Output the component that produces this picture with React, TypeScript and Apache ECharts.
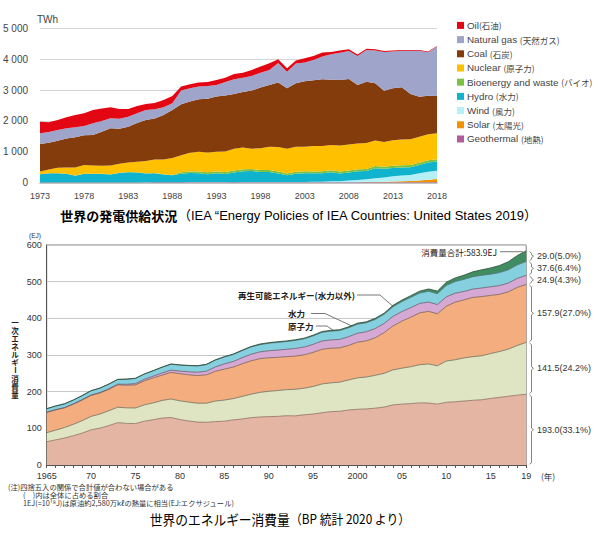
import React, { useEffect, useRef } from "react";
import * as echarts from "echarts";

// ---------- Top chart: electricity generation (TWh), 1973-2018 ----------
const genYears = ["1973","1974","1975","1976","1977","1978","1979","1980","1981","1982","1983","1984","1985","1986","1987","1988","1989","1990","1991","1992","1993","1994","1995","1996","1997","1998","1999","2000","2001","2002","2003","2004","2005","2006","2007","2008","2009","2010","2011","2012","2013","2014","2015","2016","2017","2018"];
const genGeothermal = [2,3,3,4,4,3,4,5,6,5,6,8,10,11,11,11,15,16,16,17,17,17,14,16,15,15,15,14,14,14,14,15,15,15,15,15,15,15,17,17,17,18,18,18,18,19];
const genSolar = [0,0,0,0,0,0,0,0,0,0,0,0,0,1,1,1,1,1,1,1,1,1,1,1,1,1,1,1,1,1,1,1,1,1,1,2,2,4,7,12,21,29,39,55,77,97];
const genWind = [0,0,0,0,0,0,0,0,0,0,0,0,1,1,2,2,2,3,3,3,3,3,3,3,3,3,5,6,7,10,11,14,18,27,34,55,74,95,120,141,169,183,193,229,257,275];
const genHydro = [272,304,303,286,223,283,282,279,263,312,335,325,284,294,253,226,272,293,289,255,283,262,314,351,360,328,322,279,221,267,280,272,274,293,250,258,277,262,326,280,272,262,253,272,306,296];
const genBio = [2,2,2,3,3,3,3,3,4,4,5,6,7,9,10,11,45,52,55,59,60,62,62,64,65,64,65,66,57,61,63,63,64,65,66,67,66,68,68,68,70,73,72,71,72,73];
const genNuclear = [88,120,180,200,262,288,266,262,285,295,307,342,400,432,475,550,552,602,640,646,636,668,703,705,656,703,760,787,803,815,798,824,816,822,842,842,834,842,825,803,822,831,830,840,839,841];
const genCoal = [890,861,874,937,978,960,991,1101,1204,1134,1162,1249,1329,1333,1442,1555,1653,1659,1697,1740,1788,1808,1777,1801,1882,1967,1999,2090,1956,2053,2119,2132,2163,2108,2120,2121,1898,1987,1857,1660,1686,1692,1467,1301,1249,1207];
const genGas = [346,350,346,330,324,303,378,350,324,320,324,320,324,300,249,216,442,433,412,410,379,440,477,460,477,480,486,636,533,640,605,650,739,825,881,907,939,1025,1062,1255,1193,1182,1398,1489,1407,1599];
const genOil = [376,320,323,360,399,410,431,400,357,320,249,230,195,200,237,238,131,129,128,130,162,140,172,160,194,200,216,120,115,95,140,130,125,75,70,55,45,40,40,32,30,30,30,25,21,22];
const genTicks = ["0","1 000","2 000","3 000","4 000","5 000"];
const genNames = ["Oil(石油)","Natural gas (天然ガス)","Coal (石炭)","Nuclear (原子力)","Bioenergy and waste (バイオ)","Hydro (水力)","Wind (風力)","Solar (太陽光)","Geothermal (地熱)"];

// ---------- Bottom chart: primary energy consumption (EJ), 1965-2019 ----------
const conYears = ["1965","1966","1967","1968","1969","1970","1971","1972","1973","1974","1975","1976","1977","1978","1979","1980","1981","1982","1983","1984","1985","1986","1987","1988","1989","1990","1991","1992","1993","1994","1995","1996","1997","1998","1999","2000","2001","2002","2003","2004","2005","2006","2007","2008","2009","2010","2011","2012","2013","2014","2015","2016","2017","2018","2019"];
const conOil = [63.6,68.5,73.5,80.0,87.0,96.0,100.5,107.5,115.5,113.5,113.0,119.5,123.5,128.0,129.5,124.0,120.0,117.0,116.5,118.5,119.5,123.0,125.5,129.0,131.0,132.0,132.5,134.5,134.0,137.0,139.0,142.5,145.5,146.5,150.0,152.0,153.0,155.0,158.0,164.0,166.0,167.5,169.5,169.0,166.0,171.0,172.5,174.5,176.5,178.0,181.5,184.5,187.5,190.5,193.0];
const conGas = [24.5,26.5,28.5,31.0,34.0,36.5,38.5,40.5,42.0,42.5,42.5,44.5,46.0,48.0,50.5,51.0,51.5,51.5,52.0,56.0,57.5,58.0,61.5,64.0,67.0,69.0,70.5,71.0,72.5,72.5,75.0,78.5,78.5,79.5,82.0,85.5,87.0,89.5,92.0,95.5,98.0,100.5,104.0,106.5,104.5,112.5,114.5,117.5,119.0,120.0,122.5,125.0,128.5,135.5,141.5];
const conCoal = [55.6,55.5,54.0,55.0,56.5,57.5,57.5,58.5,61.0,61.5,63.0,65.5,68.0,69.0,72.5,74.0,74.5,75.5,77.5,81.0,84.5,86.0,89.0,91.0,92.0,91.5,90.5,90.0,90.5,91.0,93.0,94.5,94.5,93.5,94.0,97.5,98.5,102.5,111.0,120.0,128.5,135.0,141.5,143.5,142.0,149.5,157.0,158.5,161.5,161.5,158.5,156.0,156.5,158.5,157.9];
const conNuclear = [0.2,0.3,0.4,0.5,0.6,0.8,1.1,1.5,2.0,2.6,3.6,4.2,5.0,6.0,6.3,7.0,8.2,8.9,10.0,12.1,14.2,15.3,16.5,17.9,18.4,19.1,19.9,20.1,20.8,21.2,21.9,22.7,22.6,23.0,23.9,24.3,24.9,25.2,25.0,25.9,26.0,26.2,25.6,25.4,25.0,25.6,24.6,22.8,22.9,23.3,23.5,23.8,24.0,24.4,24.9];
const conHydro = [9.5,10.0,10.2,10.6,11.1,11.6,12.1,12.5,12.8,13.9,14.1,14.3,14.6,15.6,16.2,16.5,16.8,17.3,17.9,18.4,18.8,19.1,19.4,19.9,19.8,20.4,21.0,21.0,22.0,22.3,23.2,23.6,24.0,24.2,24.4,24.9,24.4,24.8,24.9,26.3,27.1,28.0,28.3,29.5,29.6,31.2,31.8,33.0,33.8,34.5,34.5,35.5,36.0,37.0,37.6];
const conRenew = [0.2,0.2,0.2,0.2,0.2,0.3,0.3,0.3,0.3,0.3,0.4,0.4,0.4,0.4,0.5,0.5,0.6,0.7,0.8,0.9,1.0,1.1,1.2,1.3,1.6,1.7,1.8,1.8,1.9,2.0,2.1,2.2,2.3,2.4,2.6,2.7,2.8,3.1,3.3,3.7,4.1,4.6,5.3,6.2,7.2,8.4,9.9,11.5,13.3,15.0,17.0,19.2,22.1,25.4,29.0];
const conNames = ["石油","天然ガス","石炭","原子力","水力","再生可能エネルギー"];
const shareLabels = ["193.0(33.1%)","141.5(24.2%)","157.9(27.0%)","24.9(4.3%)","37.6(6.4%)","29.0(5.0%)"];
const totalLabel = "消費量合計:583.9EJ";
const yAxisNameChars = ["一","次","エ","ネ","ル","ギ","ー","消","費","量"];

const SANS = "'Liberation Sans','Noto Sans CJK JP',sans-serif";
const CJK = "'Noto Sans CJK JP',sans-serif";

function topSeries(name: string, data: number[], color: string) {
  return {
    name, type: "line", xAxisIndex: 0, yAxisIndex: 0, stack: "gen", data,
    symbol: "none", lineStyle: { width: 0 }, areaStyle: { color, opacity: 1 }, itemStyle: { color },
    emphasis: { disabled: true }, silent: true,
  };
}
function botSeries(name: string, data: number[], color: string, line: string) {
  return {
    name, type: "line", xAxisIndex: 1, yAxisIndex: 1, stack: "con", data,
    symbol: "none", lineStyle: { width: 0.8, color: line }, areaStyle: { color, opacity: 1 }, itemStyle: { color },
    emphasis: { disabled: true }, silent: true,
  };
}

export default function App() {
  const ref = useRef<HTMLDivElement>(null);
  useEffect(() => {
    const chart = echarts.init(ref.current!, null, { renderer: "svg", width: 600, height: 535 });
    const option: any = {
      animation: false,
      backgroundColor: "#ffffff",
      grid: [
        { left: 40, top: 28.3, width: 397, height: 154.4 },
        { left: 46.7, top: 245, width: 479.5, height: 220, show: true, borderColor: "#7a7a7a", borderWidth: 1 },
      ],
      legend: {
        data: genNames, orient: "vertical", left: 457, top: 20.5, itemWidth: 7, itemHeight: 7, itemGap: 4.4,
        icon: "rect", padding: 0, selectedMode: false,
        formatter: (n: string) => {
          const k = n.indexOf("(");
          return `{e|${n.slice(0, k)}}{j|${n.slice(k)}}`;
        },
        textStyle: {
          color: "#444", padding: [0, 0, 0, -2],
          rich: {
            e: { fontSize: 9.8, fontFamily: SANS, color: "#444", lineHeight: 12 },
            j: { fontSize: 8.5, fontFamily: CJK, color: "#444", lineHeight: 12 },
          },
        },
      },
      xAxis: [
        {
          type: "category", gridIndex: 0, data: genYears, boundaryGap: false,
          axisLine: { lineStyle: { color: "#b0b0b0", width: 1.5 } }, axisTick: { show: false },
          axisLabel: { interval: 4, fontSize: 9, fontFamily: SANS, color: "#444", margin: 9 },
        },
        {
          type: "category", gridIndex: 1, data: conYears, boundaryGap: false,
          axisLine: { lineStyle: { color: "#555", width: 1 } },
          axisTick: { show: true, interval: 0, length: 3, lineStyle: { color: "#555" } },
          axisLabel: {
            interval: (i: number, v: string) => { const y = Number(v); return y % 5 === 0 || y === 2019; },
            formatter: (v: string) => (v === "1965" || v === "2000" ? v : v.slice(2)),
            fontSize: 9, fontFamily: SANS, color: "#333", margin: 6,
          },
        },
      ],
      yAxis: [
        {
          type: "value", gridIndex: 0, min: 0, max: 5000, interval: 1000,
          axisLine: { show: false }, axisTick: { show: false },
          splitLine: { lineStyle: { color: "#d6d6d6", width: 1 } },
          axisLabel: { formatter: (v: number) => genTicks[v / 1000], fontSize: 10, fontFamily: SANS, color: "#444", margin: 12 },
        },
        {
          type: "value", gridIndex: 1, min: 0, max: 600, interval: 100,
          axisLine: { show: true, lineStyle: { color: "#555" } }, axisTick: { show: false },
          splitLine: { lineStyle: { color: "#c8c8c8", width: 1 } },
          axisLabel: { fontSize: 9, fontFamily: SANS, color: "#333", margin: 5 },
        },
      ],
      series: [
        topSeries(genNames[8], genGeothermal, "#b35c9c"),
        topSeries(genNames[7], genSolar, "#f39200"),
        topSeries(genNames[6], genWind, "#b5f0f7"),
        topSeries(genNames[5], genHydro, "#10b3cd"),
        topSeries(genNames[4], genBio, "#7cc242"),
        topSeries(genNames[3], genNuclear, "#ffc000"),
        topSeries(genNames[2], genCoal, "#843c0c"),
        topSeries(genNames[1], genGas, "#9fa4cb"),
        topSeries(genNames[0], genOil, "#e30613"),
        botSeries(conNames[0], conOil, "#e4b5a2", "#8e6f62"),
        botSeries(conNames[1], conGas, "#dfe4c2", "#6f7060"),
        botSeries(conNames[2], conCoal, "#f3ad7e", "#7a6050"),
        botSeries(conNames[3], conNuclear, "#d6a8d4", "#6a5a6a"),
        botSeries(conNames[4], conHydro, "#84d0df", "#4d6e74"),
        botSeries(conNames[5], conRenew, "#3f8d60", "#2d4a3a"),
      ],
    };
    chart.setOption(option);

    const n = conYears.length;
    const layers = [conOil, conGas, conCoal, conNuclear, conHydro, conRenew];
    const cum: number[][] = [];
    layers.forEach((arr, k) => {
      cum.push(arr.map((v, i) => v + (k > 0 ? cum[k - 1][i] : 0)));
    });
    const px = (i: number, v: number) => chart.convertToPixel({ gridIndex: 1 }, [i, v]) as number[];
    const g: any[] = [];
    const txt = (text: string, x: number, y: number, size: number, opts: any = {}) => g.push({
      type: "text", x, y, silent: true, scaleX: opts.scaleX ?? 1, rotation: opts.rotation ?? 0,
      style: {
        text, fill: opts.color ?? "#333", fontSize: size, fontFamily: opts.family ?? CJK,
        fontWeight: opts.weight ?? "normal", textAlign: opts.align ?? "left", textVerticalAlign: "middle",
      },
    });
    const line = (pts: number[][], color = "#555", w = 0.8) => g.push({
      type: "polyline", silent: true, shape: { points: pts }, style: { stroke: color, lineWidth: w, fill: "none" },
    });

    // top chart texts
    txt("TWh", 37, 19, 10, { family: SANS, color: "#444" });
    g.push({
      type: "text", x: 299, y: 215, silent: true,
      style: {
        text: "{a|世界の発電供給状況}{b|（IEA “Energy Policies of IEA Countries: United States 2019）}",
        textAlign: "center", textVerticalAlign: "middle",
        rich: {
          a: { fontSize: 13, fontWeight: "bold", fontFamily: CJK, color: "#222" },
          b: { fontSize: 13, fontFamily: SANS, color: "#222" },
        },
      },
    });

    // bottom chart axis names
    txt("(EJ)", 35, 235, 6.5, { family: SANS, align: "center" });
    yAxisNameChars.forEach((c, k) => {
      const y = 322 + k * 8;
      if (c === "ー") txt(c, 15, y, 7.5, { weight: "bold", align: "center", rotation: -Math.PI / 2, color: "#222" });
      else txt(c, 15, y, 7.5, { weight: "bold", align: "center", color: "#222" });
    });
    txt("(年)", 541, 476, 8.5, { family: CJK });

    // notes & caption
    txt("(注)四捨五入の関係で合計値が合わない場合がある", 8, 487, 7.3);
    txt("(　)内は全体に占める割合", 23, 495, 7.3);
    txt("1EJ(=10¹⁸J)は原油約2,580万kℓの熱量に相当(EJ:エクサジュール)", 23, 503, 7.3);
    g.push({
      type: "text", x: 280, y: 519, silent: true, scaleX: 0.91,
      style: {
        text: "{a|世界のエネルギー消費量}{b|（BP 統計 2020 より）}", textAlign: "center", textVerticalAlign: "middle",
        rich: {
          a: { fontSize: 14, fontFamily: CJK, color: "#222" },
          b: { fontSize: 13, fontFamily: CJK, color: "#222" },
        },
      },
    });

    // in-chart labels
    txt("石油", 288, 441, 8.5, { weight: "bold", color: "#222" });
    txt("天然ガス", 279, 403, 8.5, { weight: "bold", color: "#222" });
    txt("石炭", 288, 372, 8.5, { weight: "bold", color: "#222" });
    txt("原子力", 288, 326, 8.5, { weight: "bold", color: "#222" });
    txt("水力", 288, 313, 8.5, { weight: "bold", color: "#222" });
    txt("再生可能エネルギー(水力以外)", 238, 295, 8.5, { weight: "bold", color: "#222" });

    const iRen = conYears.indexOf("2004");
    const tRen = px(iRen, cum[5][iRen]);
    line([[357, 295], [380, 295], [tRen[0], tRen[1] + 1]]);
    const iHy = conYears.indexOf("2000");
    const tHy = px(iHy, (cum[3][iHy] + cum[4][iHy]) / 2);
    line([[311, 313.5], [325, 313.5], [tHy[0], tHy[1]]]);
    const iNu = conYears.indexOf("1999");
    const tNu = px(iNu, (cum[2][iNu] + cum[3][iNu]) / 2);
    line([[316, 326], [327, 326], [tNu[0], tNu[1]]]);

    // total label
    const tTop = px(n - 1, cum[5][n - 1]);
    txt(totalLabel, 497, tTop[1] + 0.8, 8.5, { align: "right", color: "#222" });
    line([[500, tTop[1] + 0.8], [tTop[0] - 3, tTop[1] + 0.8]]);

    // right braces & share labels
    for (let k = 0; k < layers.length; k++) {
      const lo = k > 0 ? cum[k - 1][n - 1] : 0;
      const hi = cum[k][n - 1];
      const yB = px(n - 1, lo)[1];
      const yT = px(n - 1, hi)[1];
      const ym = (yB + yT) / 2;
      const x0 = 529.5, x1 = 531.5;
      line([[x0, yT + 0.8], [x1, yT + 2.3], [x1, ym - 1.5], [x1 + 2, ym], [x1, ym + 1.5], [x1, yB - 2.3], [x0, yB - 0.8]], "#666", 0.8);
      txt(shareLabels[k], 537, ym, 9, { family: SANS, color: "#333" });
    }

    chart.setOption({ graphic: g });
    return () => chart.dispose();
  }, []);
  return <div ref={ref} style={{ position: "fixed", left: 0, top: 0, width: 600, height: 535, background: "#fff" }} />;
}
